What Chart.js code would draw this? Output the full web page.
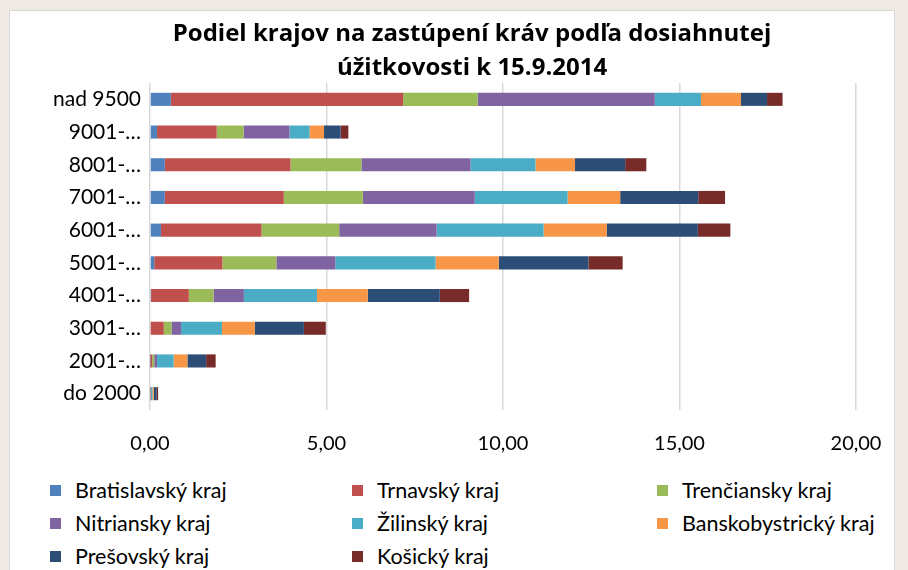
<!DOCTYPE html>
<html>
<head>
<meta charset="utf-8">
<script src="https://cdn.jsdelivr.net/npm/chart.js@4/dist/chart.umd.min.js"></script>
<style>
  body { margin: 0; background: #eeeae3; width: 908px; height: 570px; overflow: hidden; font-family: Lato, "Open Sans", sans-serif; }
  #box { position: absolute; left: 9px; top: 10px; width: 884px; height: 570px; background: #fff; border: 1px solid #d9d9d9; }
  #title { position: absolute; left: 272px; width: 400px; top: 15px; text-align: center; white-space: nowrap;
           font-family: "Open Sans", sans-serif; font-weight: bold; font-size: 24px; line-height: 34px; color: #000; }
  #title div { position: relative; left: 0; margin-left: -200px; width: 800px; }
  #wrap { position: absolute; left: 0; top: 0; width: 908px; height: 470px; }
  #legend { position: absolute; left: 0; top: 477px; width: 908px; }
  .item { position: absolute; font-size: 21.5px; color: #000; white-space: nowrap; }
  .item span.sw { display: inline-block; width: 11px; height: 11px; margin-right: 14px; vertical-align: 2px; }
</style>
</head>
<body>
<div id="box"></div>
<div id="wrap"><canvas id="chart"></canvas></div>
<div id="title"><div>Podiel krajov na zastúpení kráv podľa dosiahnutej</div><div>úžitkovosti k 15.9.2014</div></div>
<div id="legend"></div>
<script>
// kategórie úžitkovosti (zhora nadol)
const categories = ['nad 9500', '9001-…', '8001-…', '7001-…', '6001-…', '5001-…', '4001-…', '3001-…', '2001-…', 'do 2000'];

const regions = ['Bratislavský kraj', 'Trnavský kraj', 'Trenčiansky kraj', 'Nitriansky kraj',
                 'Žilinský kraj', 'Banskobystrický kraj', 'Prešovský kraj', 'Košický kraj'];

// hodnoty v %, odčítané z grafu
const bratislavsky   = [0.59, 0.20, 0.42, 0.42, 0.31, 0.12, 0.03, 0.02, 0.01, 0.00];
const trnavsky       = [6.58, 1.69, 3.56, 3.37, 2.85, 1.93, 1.07, 0.37, 0.05, 0.01];
const trenciansky    = [2.11, 0.76, 2.01, 2.24, 2.20, 1.53, 0.70, 0.22, 0.06, 0.01];
const nitriansky     = [5.02, 1.30, 3.09, 3.17, 2.76, 1.67, 0.86, 0.27, 0.08, 0.01];
const zilinsky       = [1.31, 0.57, 1.84, 2.63, 3.03, 2.84, 2.07, 1.16, 0.47, 0.04];
const banskobystricky= [1.13, 0.41, 1.12, 1.49, 1.79, 1.79, 1.44, 0.93, 0.39, 0.04];
const presovsky      = [0.74, 0.47, 1.42, 2.21, 2.58, 2.54, 2.04, 1.39, 0.53, 0.08];
const kosicky        = [0.44, 0.22, 0.60, 0.76, 0.92, 0.97, 0.83, 0.62, 0.27, 0.04];

const xTicks = [0, 5, 10, 15, 20];

const seriesValues = [bratislavsky, trnavsky, trenciansky, nitriansky, zilinsky, banskobystricky, presovsky, kosicky];
const colors = ['#4F81BD', '#C0504D', '#9BBB59', '#8064A2', '#4BACC6', '#F79646', '#2C4D75', '#772C2A'];

const datasets = regions.map((name, i) => ({
    label: name,
    data: seriesValues[i],
    backgroundColor: colors[i],
    borderWidth: 0,
    categoryPercentage: 0.8,
    barPercentage: 0.5
}));

const FONT = 'Lato, "Open Sans", sans-serif';

new Chart(document.getElementById('chart'), {
    type: 'bar',
    data: { labels: categories, datasets: datasets },
    options: {
        indexAxis: 'y',
        responsive: true,
        maintainAspectRatio: false,
        animation: false,
        layout: { padding: { left: 0, right: 52, top: 83, bottom: 0 } },
        plugins: {
            legend: { display: false },
            tooltip: { enabled: false }
        },
        scales: {
            x: {
                stacked: true,
                min: 0,
                max: 20,
                afterBuildTicks: (scale) => { scale.ticks = xTicks.map(v => ({ value: v })); },
                afterFit: (scale) => { scale.height = 60; },
                grid: { color: '#d9d9d9', lineWidth: 1.5, drawTicks: false },
                border: { display: false },
                ticks: {
                    padding: 22,
                    color: '#000',
                    font: { family: FONT, size: 20 },
                    callback: (v) => Number(v).toFixed(2).replace('.', ',')
                }
            },
            y: {
                stacked: true,
                afterFit: (scale) => { scale.width = 150; },
                grid: { display: false, drawTicks: false },
                border: { display: false },
                ticks: {
                    padding: 9,
                    color: '#000',
                    font: { family: FONT, size: 21 }
                }
            }
        }
    }
});

// legenda v troch stĺpcoch
const legend = document.getElementById('legend');
const colX = [50, 352, 657];
regions.forEach((name, i) => {
    const el = document.createElement('div');
    el.className = 'item';
    el.style.left = colX[i % 3] + 'px';
    el.style.top = (Math.floor(i / 3) * 33) + 'px';
    el.innerHTML = '<span class="sw" style="background:' + colors[i] + '"></span>' + name;
    legend.appendChild(el);
});
</script>
</body>
</html>
